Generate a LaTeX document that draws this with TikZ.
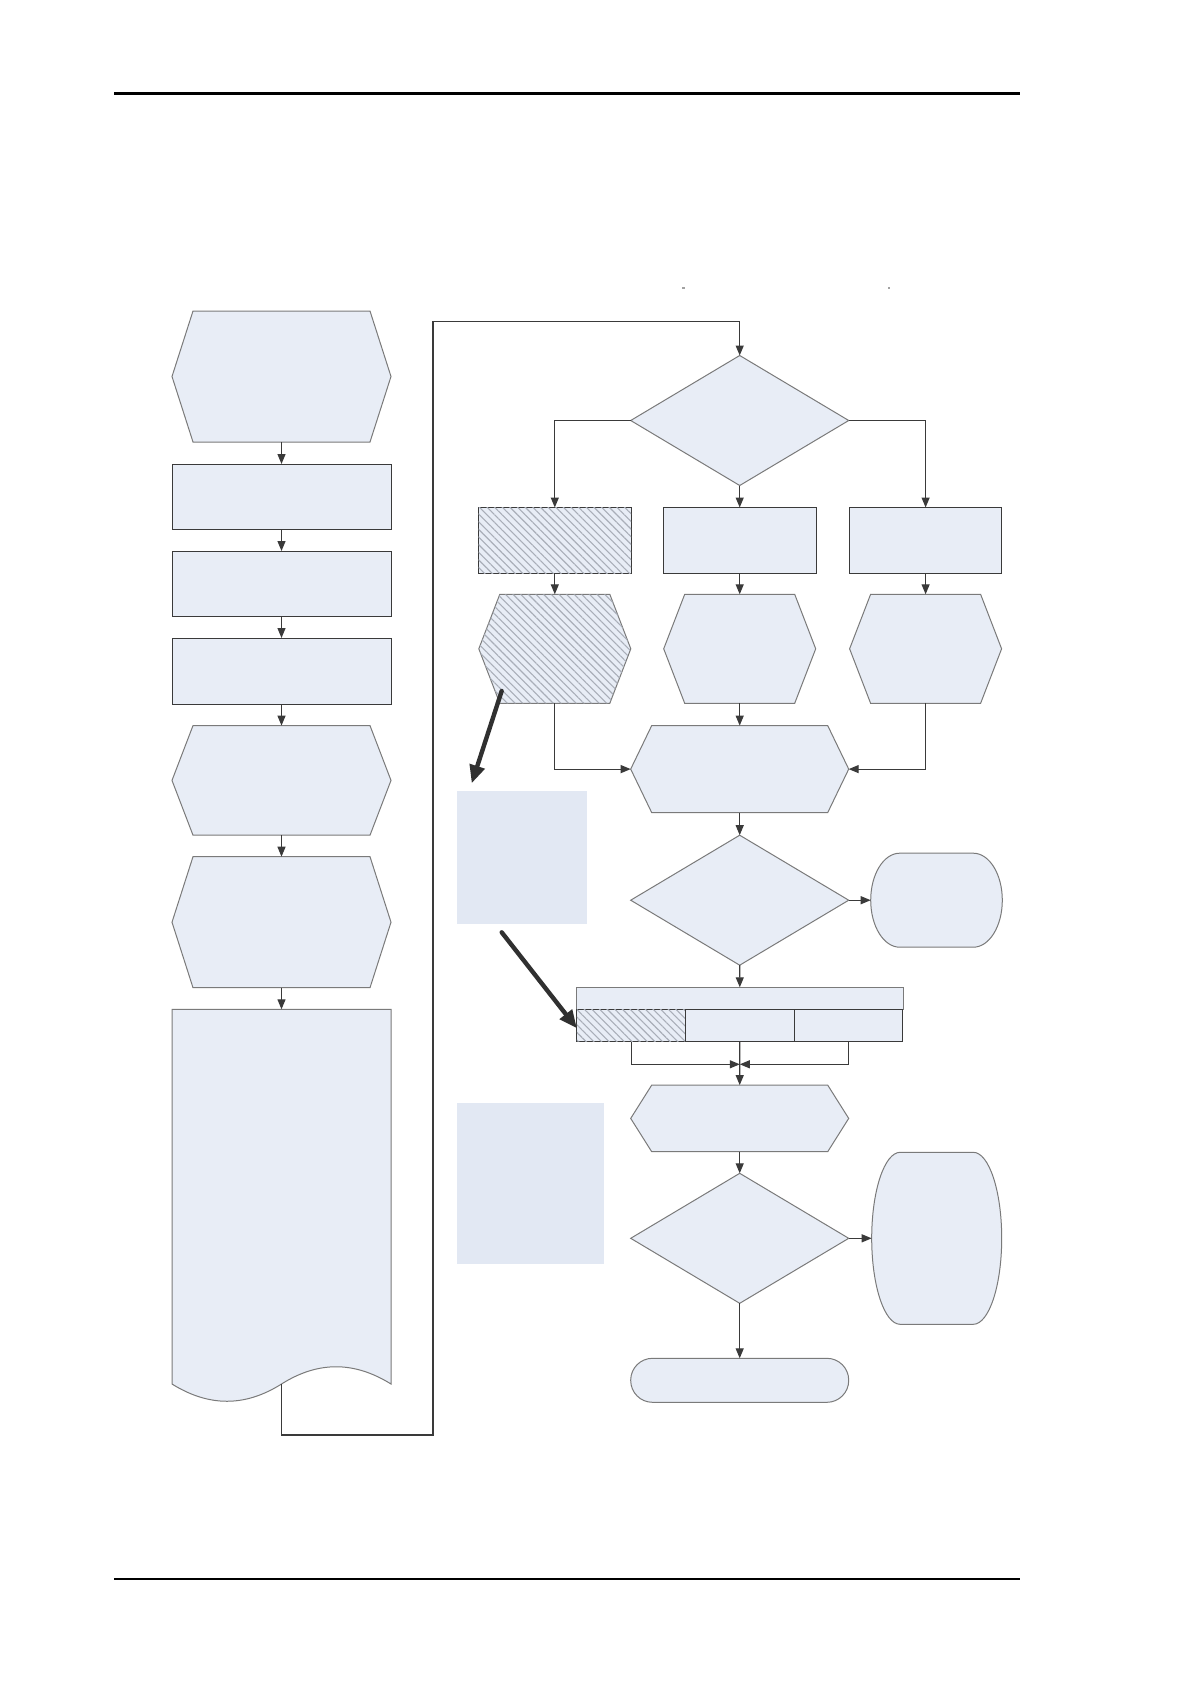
\documentclass[tikz,border=0pt]{standalone}
\usetikzlibrary{arrows.meta,patterns.meta}
\definecolor{boxfill}{HTML}{E8EDF6}
\definecolor{notefill}{HTML}{E2E8F3}
\definecolor{edgegray}{HTML}{7A7A7A}
\definecolor{edgedark}{HTML}{3A3A3A}
\definecolor{hatchc}{HTML}{A9AEB8}
\definecolor{arrowc}{HTML}{303030}
\tikzset{
  sz/.style 2 args={minimum width=#1*0.5pt, minimum height=#2*0.5pt},
  anchorbox/.style={rectangle, inner sep=0pt, outer sep=0pt, draw=none},
  rectbox/.style={rectangle, inner sep=0pt, outer sep=0pt, fill=boxfill, draw=edgedark, line width=0.5pt},
  softshape/.style={fill=boxfill, draw=edgegray, line width=0.5pt},
  hatched/.style={fill=boxfill, postaction={pattern={Lines[angle=-45,distance=2.7pt,line width=0.55pt]}, pattern color=hatchc}},
  conn/.style={draw=edgedark, line width=0.6pt},
  arr/.style={conn, -{Triangle[length=5pt,width=4pt]}},
  bigarr/.style={draw=arrowc, line width=2.2pt, line cap=round, -{Triangle[length=9pt,width=7.5pt]}},
  notebox/.style={rectangle, inner sep=0pt, outer sep=0pt, fill=notefill},
  rulestyle/.style={draw=black, line width=1.3pt}
}
\newcommand\hexagonpath[3]{\path[#2] ([xshift=#3]#1.north west) -- ([xshift=-#3]#1.north east) -- (#1.east) -- ([xshift=-#3]#1.south east) -- ([xshift=#3]#1.south west) -- (#1.west) -- cycle;}
\newcommand\diamondpath[2]{\path[#2] (#1.north) -- (#1.east) -- (#1.south) -- (#1.west) -- cycle;}
\newcommand\capsulepath[3]{\path[softshape] ([xshift=#2]#1.north west) -- ([xshift=-#2]#1.north east) arc[start angle=90,end angle=-90,x radius=#2,y radius=#3] -- ([xshift=#2]#1.south west) arc[start angle=270,end angle=90,x radius=#2,y radius=#3] -- cycle;}
\begin{document}
\begin{tikzpicture}[x=0.5pt,y=-0.5pt]
\fill[white] (0,0) rectangle (1191,1685);
\useasboundingbox (0,0) rectangle (1191,1685);
% page rules
\coordinate (hl) at (114,93.5); \coordinate (hr) at (1020,93.5);
\coordinate (fl) at (114,1579); \coordinate (fr) at (1020,1579);
\draw[rulestyle] (hl) -- (hr);
\draw[rulestyle] (fl) -- (fr);
% tiny marks
\fill[edgegray!70] (682,287) rectangle (684.5,289);
\fill[edgegray!70] (887.5,287) rectangle (890,289);

% ---- left column ----
\node[anchorbox, sz={219}{131}] (A) at (281.5,376.5) {};
\hexagonpath{A}{softshape}{10.5pt}
\node[rectbox, sz={219}{65}] (B) at (281.5,496.5) {};
\node[rectbox, sz={219}{65}] (C) at (281.5,583.5) {};
\node[rectbox, sz={219}{66}] (D) at (281.5,671) {};
\node[anchorbox, sz={219}{109.6}] (E) at (281.5,780.4) {};
\hexagonpath{E}{softshape}{10.5pt}
\node[anchorbox, sz={219}{131}] (F) at (281.5,922.2) {};
\hexagonpath{F}{softshape}{10.5pt}
\node[anchorbox, sz={219}{374.7}] (G) at (281.5,1196.65) {};
\path[softshape] (G.north west) -- (G.north east) -- (G.south east)
  .. controls (354,1361) and (318,1361) .. (G.south)
  .. controls (245,1407) and (209,1407) .. (G.south west) -- cycle;

\draw[arr] (A.south) -- (B.north);
\draw[arr] (B.south) -- (C.north);
\draw[arr] (C.south) -- (D.north);
\draw[arr] (D.south) -- (E.north);
\draw[arr] (E.south) -- (F.north);
\draw[arr] (F.south) -- (G.north);

% ---- right part ----
\node[anchorbox, sz={218}{130}] (H) at (739.7,420.5) {};
\diamondpath{H}{softshape}
\node[rectbox, hatched, sz={152.6}{65.6}] (I1) at (554.8,540.3) {};
\node[rectbox, sz={152.6}{65.6}] (I2) at (739.7,540.3) {};
\node[rectbox, sz={152.6}{65.6}] (I3) at (925.6,540.3) {};
\node[anchorbox, sz={152}{109}] (J1) at (554.8,648.8) {};
\hexagonpath{J1}{softshape, hatched}{10.5pt}
\node[anchorbox, sz={152}{109}] (J2) at (739.7,648.8) {};
\hexagonpath{J2}{softshape}{10.5pt}
\node[anchorbox, sz={152}{109}] (J3) at (925.6,648.8) {};
\hexagonpath{J3}{softshape}{10.5pt}
\node[anchorbox, sz={218}{87}] (K) at (739.7,769.1) {};
\hexagonpath{K}{softshape}{10.5pt}
\node[anchorbox, sz={218}{130}] (L) at (739.7,900.2) {};
\diamondpath{L}{softshape}
\node[anchorbox, sz={131.6}{94}] (M) at (936.5,900.2) {};
\capsulepath{M}{14.5pt}{23.5pt}
\node[anchorbox, softshape, sz={326.6}{22}] (O0) at (739.8,998.3) {};
\node[rectbox, hatched, sz={108.6}{32.4}] (O1) at (631.2,1025.5) {};
\node[rectbox, sz={108.6}{32.4}] (O2) at (739.8,1025.5) {};
\node[rectbox, sz={108.6}{32.4}] (O3) at (848.4,1025.5) {};
\coordinate (mg) at (739.8,1064.3);
\node[anchorbox, sz={218}{66.6}] (P) at (739.7,1118.4) {};
\hexagonpath{P}{softshape}{10.5pt}
\node[anchorbox, sz={218}{130}] (Q) at (739.7,1238.3) {};
\diamondpath{Q}{softshape}
\node[anchorbox, sz={130}{172}] (N) at (936.7,1238.3) {};
\capsulepath{N}{14.25pt}{43pt}
\node[anchorbox, softshape, rounded corners=10.9pt, sz={218}{44}] (R) at (739.7,1380.3) {};

% notes
\node[notebox, sz={129.4}{133}] (S) at (522,857.5) {};
\node[notebox, sz={147.3}{161.3}] (T) at (530.4,1183.5) {};

% connectors
\coordinate (r1) at (433,1435);
\coordinate (r2) at (433,321.4);
\draw[arr] (G.south) |- (r1) -- (r2) -| (H.north);
\draw[arr] (H.west) -| (I1.north);
\draw[arr] (H.south) -- (I2.north);
\draw[arr] (H.east) -| (I3.north);
\draw[arr] (I1.south) -- (J1.north);
\draw[arr] (I2.south) -- (J2.north);
\draw[arr] (I3.south) -- (J3.north);
\draw[arr] (J1.south) |- (K.west);
\draw[arr] (J2.south) -- (K.north);
\draw[arr] (J3.south) |- (K.east);
\draw[arr] (K.south) -- (L.north);
\draw[arr] (L.east) -- (M.west);
\draw[arr] (L.south) -- (O0.north);
\draw[arr] (O1.south) |- (mg);
\draw[arr] (O3.south) |- (mg);
\draw[arr] (O2.south) -- (P.north);
\draw[arr] (P.south) -- (Q.north);
\draw[arr] (Q.east) -- (N.west);
\draw[arr] (Q.south) -- (R.north);

% thick pointer arrows
\coordinate (t1) at (501.7,691);
\coordinate (t2) at (501.7,932.3);
\draw[bigarr] (t1) -- ([shift={(14.4,-7.7)}]S.north west);
\draw[bigarr] (t2) -- ([yshift=-1.4pt]O1.west);
\end{tikzpicture}
\end{document}
